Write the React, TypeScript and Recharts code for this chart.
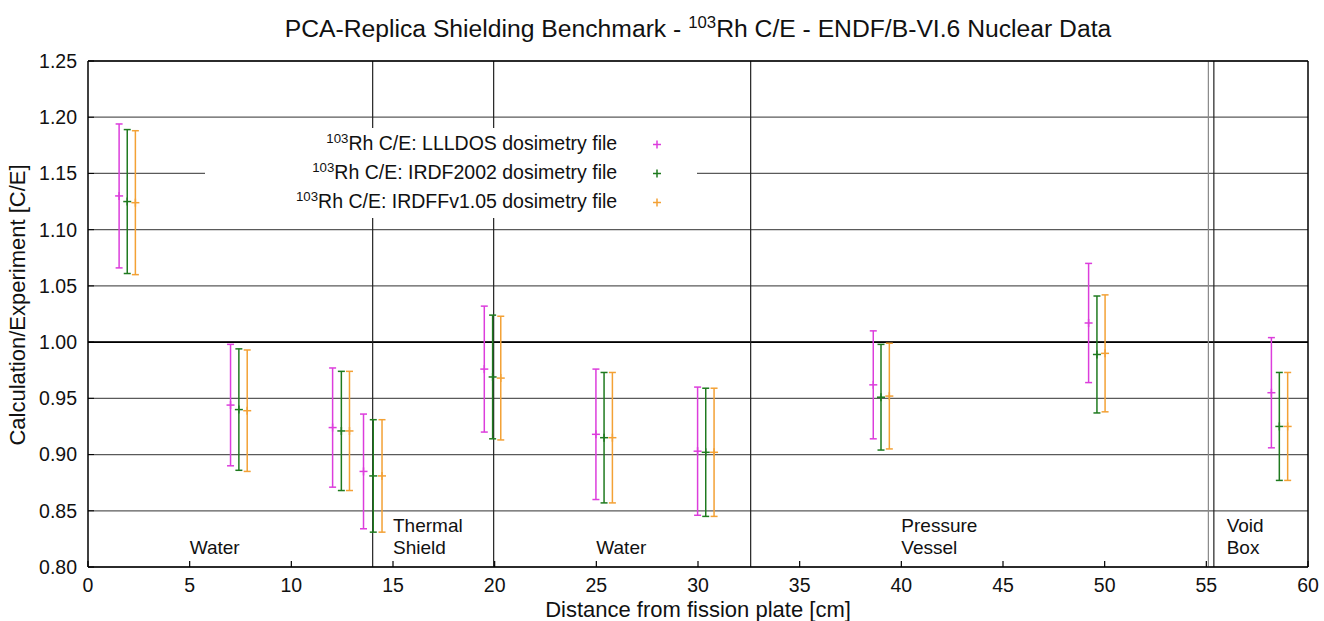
import React from 'react';
import { ScatterChart, Scatter, XAxis, YAxis, CartesianGrid, ReferenceLine, ErrorBar, Legend } from 'recharts';

const xTicks = [0, 5, 10, 15, 20, 25, 30, 35, 40, 45, 50, 55, 60];
const yTicks = [0.8, 0.85, 0.9, 0.95, 1.0, 1.05, 1.1, 1.15, 1.2, 1.25];

const seriesNames = ['LLLDOS', 'IRDF2002', 'IRDFFv1.05'];
const seriesColors = ['#dc3ddc', '#1f7a1f', '#f3a135'];

// positions along the assembly (cm), each library slightly shifted
const xLLLDOS = [1.53, 7.01, 12.03, 13.55, 19.49, 24.98, 29.98, 38.62, 49.21, 58.2];
const xIRDF2002 = [1.93, 7.42, 12.46, 14.03, 19.9, 25.38, 30.38, 39.0, 49.62, 58.59];
const xIRDFF = [2.33, 7.83, 12.86, 14.46, 20.3, 25.79, 30.79, 39.41, 50.02, 59.0];

// C/E ratios and their uncertainties
const ceLLLDOS = [1.13, 0.944, 0.924, 0.885, 0.976, 0.918, 0.903, 0.962, 1.017, 0.955];
const errLLLDOS = [0.064, 0.054, 0.053, 0.051, 0.056, 0.058, 0.057, 0.048, 0.053, 0.049];
const ceIRDF2002 = [1.125, 0.94, 0.921, 0.881, 0.969, 0.915, 0.902, 0.951, 0.989, 0.925];
const errIRDF2002 = [0.064, 0.054, 0.053, 0.05, 0.055, 0.058, 0.057, 0.047, 0.052, 0.048];
const ceIRDFF = [1.124, 0.939, 0.921, 0.881, 0.968, 0.915, 0.902, 0.952, 0.99, 0.925];
const errIRDFF = [0.064, 0.054, 0.053, 0.05, 0.055, 0.058, 0.057, 0.047, 0.052, 0.048];

// material regions
const boundaries = [14, 19.95, 32.59, 55.1, 55.37];
const regionStarts = [5, 15, 25, 40, 56];
const regionNames = [['Water'], ['Thermal', 'Shield'], ['Water'], ['Pressure', 'Vessel'], ['Void', 'Box']];
const regionBaseline = 0.8115;

const toPoints = (xs: number[], ce: number[], err: number[]) =>
  xs.map((x, i) => ({ x, y: ce[i], err: err[i] }));

const series = [
  toPoints(xLLLDOS, ceLLLDOS, errLLLDOS),
  toPoints(xIRDF2002, ceIRDF2002, errIRDF2002),
  toPoints(xIRDFF, ceIRDFF, errIRDFF),
];

const regionData = regionStarts.map((x, i) => ({ x, y: regionBaseline, lines: regionNames[i] }));

const FONT = "'Liberation Sans', Arial, Helvetica, sans-serif";
const INK = '#111';

const PlusMark = (props: any) => {
  const { cx, cy, fill } = props;
  if (cx == null || cy == null) return null;
  return (
    <g>
      <line x1={cx - 4} x2={cx + 4} y1={cy} y2={cy} stroke={fill} strokeWidth={1.5} />
      <line x1={cx} x2={cx} y1={cy - 4} y2={cy + 4} stroke={fill} strokeWidth={1.5} />
    </g>
  );
};

const RegionText = (props: any) => {
  const { cx, cy, payload } = props;
  if (cx == null || cy == null) return null;
  const lines: string[] = payload.lines;
  return (
    <text fontSize={19} fill={INK}>
      {lines.map((l, i) => (
        <tspan key={i} x={cx} y={cy - (lines.length - 1 - i) * 22.5}>
          {l}
        </tspan>
      ))}
    </text>
  );
};

const YLabel = (props: any) => {
  const vb = props.viewBox || { x: 0, y: 61, width: 88, height: 506 };
  const cx = vb.x + 25;
  const cy = vb.y + vb.height / 2 - 9;
  return (
    <text x={cx} y={cy} transform={`rotate(-90, ${cx}, ${cy})`} textAnchor="middle" fontSize={22} fill={INK}>
      Calculation/Experiment [C/E]
    </text>
  );
};

const Sup = ({ children }: { children: React.ReactNode }) => (
  <span style={{ fontSize: '0.68em', position: 'relative', top: '-0.55em' }}>{children}</span>
);

const LegendBox = () => (
  <div style={{ width: 492, height: 90, background: '#fff', fontSize: 19.5, color: INK, paddingTop: 2, boxSizing: 'border-box' }}>
    {seriesNames.map((n, i) => (
      <div key={n} style={{ display: 'flex', height: 29, lineHeight: '29px', alignItems: 'center' }}>
        <span style={{ width: 413, textAlign: 'right', whiteSpace: 'nowrap' }}>
          <Sup>103</Sup>Rh C/E: {n} dosimetry file
        </span>
        <svg width={80} height={29}>
          <line x1={36} x2={44} y1={14.5} y2={14.5} stroke={seriesColors[i]} strokeWidth={1.5} />
          <line x1={40} x2={40} y1={10.5} y2={18.5} stroke={seriesColors[i]} strokeWidth={1.5} />
        </svg>
      </div>
    ))}
  </div>
);

const App: React.FC = () => {
  return (
    <div style={{ position: 'absolute', left: 0, top: 0, width: 1324, height: 621, overflow: 'hidden', fontFamily: FONT, background: '#fff' }}>
      <div style={{ position: 'absolute', left: 72, width: 1252, top: 17, textAlign: 'center', whiteSpace: 'nowrap', fontSize: 24.7, lineHeight: '24px', color: INK, zIndex: 2 }}>
        PCA-Replica Shielding Benchmark - <Sup>103</Sup>Rh C/E - ENDF/B-VI.6 Nuclear Data
      </div>
      <ScatterChart width={1324} height={621} margin={{ top: 60, right: 15, left: 0, bottom: 0 }}>
        <CartesianGrid vertical={false} stroke="#5a5a5a" strokeWidth={1.2} />
        <XAxis
          type="number"
          dataKey="x"
          domain={[0, 60]}
          ticks={xTicks}
          height={54}
          tickSize={-6}
          tickMargin={17}
          tick={{ fontSize: 19.5, fill: INK }}
          axisLine={{ stroke: '#000', strokeWidth: 1.5 }}
          tickLine={{ stroke: '#000', strokeWidth: 1.2 }}
          label={{ value: 'Distance from fission plate [cm]', position: 'insideBottom', offset: 4, fontSize: 22, fill: INK }}
        />
        <XAxis
          xAxisId="top"
          orientation="top"
          type="number"
          domain={[0, 60]}
          ticks={xTicks}
          height={1}
          tickSize={-6}
          tick={() => <g />}
          axisLine={{ stroke: '#000', strokeWidth: 1.5 }}
          tickLine={{ stroke: '#000', strokeWidth: 1.2 }}
        />
        <YAxis
          type="number"
          dataKey="y"
          domain={[0.8, 1.25]}
          ticks={yTicks}
          width={88}
          tickSize={-6}
          tickMargin={17}
          tickFormatter={(v: number) => v.toFixed(2)}
          tick={{ fontSize: 19.5, fill: INK }}
          axisLine={{ stroke: '#000', strokeWidth: 1.5 }}
          tickLine={{ stroke: '#000' }}
          label={<YLabel />}
        />
        <YAxis
          yAxisId="right"
          orientation="right"
          type="number"
          domain={[0.8, 1.25]}
          ticks={yTicks}
          width={1}
          tick={false}
          tickLine={false}
          axisLine={{ stroke: '#000', strokeWidth: 1.5 }}
        />
        <ReferenceLine y={1} stroke="#000" strokeWidth={1.6} />
        {boundaries.map((b, i) => (
          <ReferenceLine key={b} x={b} stroke={i === 3 ? '#888' : '#222'} strokeWidth={1.2} />
        ))}
        <Scatter
          name="regions"
          data={regionData}
          legendType="none"
          isAnimationActive={false}
          shape={(p: any) => <RegionText {...p} />}
        />
        {series.map((data, i) => (
          <Scatter
            key={seriesNames[i]}
            name={seriesNames[i]}
            data={data}
            fill={seriesColors[i]}
            isAnimationActive={false}
            shape={(p: any) => <PlusMark {...p} fill={seriesColors[i]} />}
          >
            <ErrorBar
              dataKey="err"
              direction="y"
              width={3.5}
              stroke={seriesColors[i]}
              strokeWidth={1.5}
              isAnimationActive={false}
            />
          </Scatter>
        ))}
        <Legend
          layout="vertical"
          align="center"
          verticalAlign="middle"
          wrapperStyle={{ left: 205, top: 128, width: 492, height: 90 }}
          content={() => <LegendBox />}
        />
      </ScatterChart>
    </div>
  );
};

export default App;
